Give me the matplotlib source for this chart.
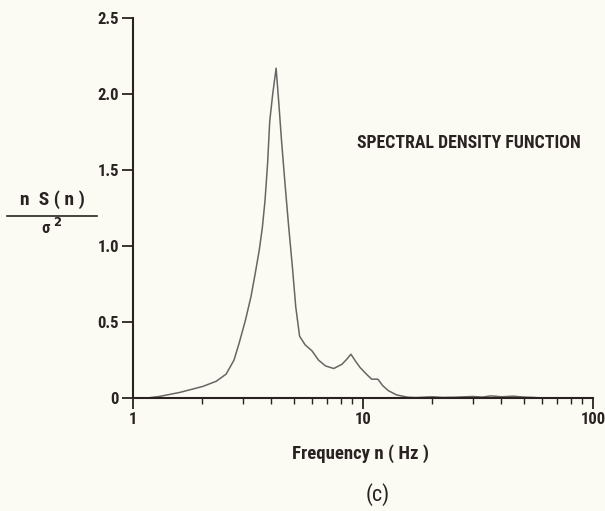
import matplotlib
matplotlib.use("Agg")
import matplotlib.pyplot as plt
from matplotlib import font_manager
from matplotlib.lines import Line2D

# ---- data ----
freq = [1.15, 1.3, 1.6, 2.01, 2.3, 2.54, 2.75, 2.90, 3.08, 3.26, 3.40, 3.54, 3.65, 3.75, 3.85,
        3.93, 4.05, 4.19, 4.30, 4.42, 4.58, 4.75, 4.93, 5.10, 5.30, 5.6, 6.01, 6.4, 6.87, 7.46,
        8.10, 8.50, 8.86, 9.3, 9.72, 10.3, 10.9, 11.6, 12.2, 12.9, 14.0, 15.7, 17.0, 20.0, 22.0,
        25.0, 30.0, 33.0, 36.0, 40.0, 45.0, 50.0, 55.0, 60.0]
psd = [0.0, 0.01, 0.037, 0.076, 0.11, 0.157, 0.25, 0.366, 0.51, 0.669, 0.82, 0.974, 1.12, 1.30, 1.55,
       1.82, 2.0, 2.17, 1.95, 1.70, 1.41, 1.13, 0.865, 0.60, 0.407, 0.35, 0.309, 0.25, 0.211, 0.194,
       0.222, 0.255, 0.288, 0.24, 0.20, 0.16, 0.124, 0.124, 0.08, 0.048, 0.02, 0.005, 0.003, 0.008, 0.004,
       0.005, 0.010, 0.006, 0.014, 0.008, 0.012, 0.006, 0.004, 0.0]

yticks = [0, 0.5, 1.0, 1.5, 2.0, 2.5]
ytick_labels = ["0", "0.5", "1.0", "1.5", "2.0", "2.5"]
xticks = [1, 10, 100]
xtick_labels = ["1", "10", "100"]

# ---- fonts ----
avail = {f.name for f in font_manager.fontManager.ttflist}
fam = [f for f in ["Liberation Sans Narrow", "Roboto Condensed", "DejaVu Sans"] if f in avail]
plt.rcParams["font.family"] = fam
plt.rcParams["font.weight"] = "bold"

bg = "#fbfbf4"
ink = "#2a2222"
fig = plt.figure(figsize=(6.05, 5.11), dpi=100, facecolor=bg)
ax = fig.add_axes([133/605, 1 - 398/511, (593-133)/605, (398-18)/511])
ax.set_facecolor(bg)

ax.plot(freq, psd, color="#6a6464", lw=1.1)
ax.set_xscale("log")
ax.set_xlim(1, 100)
ax.set_ylim(0, 2.5)

for s in ["top", "right"]:
    ax.spines[s].set_visible(False)
for s in ["left", "bottom"]:
    ax.spines[s].set_color(ink)
    ax.spines[s].set_linewidth(1.5)

ax.set_xticks(xticks)
ax.set_xticklabels(xtick_labels)
ax.set_yticks(yticks)
ax.set_yticklabels(ytick_labels)
ax.xaxis.set_minor_locator(matplotlib.ticker.LogLocator(base=10, subs=range(2, 10)))
ax.xaxis.set_minor_formatter(matplotlib.ticker.NullFormatter())
ax.tick_params(axis="both", which="major", direction="out", length=8, width=1.3,
               color=ink, labelcolor=ink, labelsize=12, pad=2)
ax.tick_params(axis="x", which="minor", direction="out", length=4.5, width=1.0, color=ink)

fig.text(357/605, 1 - 143/511, "SPECTRAL DENSITY FUNCTION", fontsize=12.8,
         color=ink, va="center", ha="left")

# x label and panel tag in figure pixels
fig.text(360/605, 1 - 454/511, "Frequency n ( Hz )", fontsize=13.5, color=ink,
         ha="center", va="center")
fig.text(378/605, 1 - 495/511, "(c)", fontsize=16, color=ink, ha="center", va="center",
         fontweight="normal")

# y label as fraction
fig.text(52/605, 1 - 200/511, "n  S ( n )", fontsize=14, color=ink, ha="center", va="center")
fig.add_artist(Line2D([7/605, 97/605], [1 - 216/511, 1 - 216/511], color=ink, lw=1.2))
fig.text(52/605, 1 - 227/511, r"σ $^{2}$", fontsize=12, color=ink, ha="center", va="center")

fig.savefig("out.png", dpi=100, facecolor=bg)
